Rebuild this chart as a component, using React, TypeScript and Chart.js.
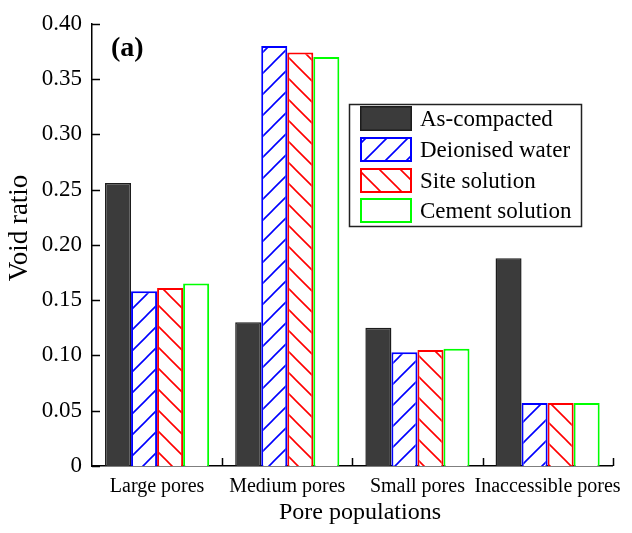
import { useEffect, useRef } from 'react';
import { Chart, registerables } from 'chart.js';

Chart.register(...registerables);

const FONT = '"Liberation Serif", "Times New Roman", serif';

const categories = ['Large pores', 'Medium pores', 'Small pores', 'Inaccessible pores'];
const seriesNames = ['As-compacted', 'Deionised water', 'Site solution', 'Cement solution'];
const asCompacted = [0.256, 0.130, 0.125, 0.188];
const deionisedWater = [0.158, 0.380, 0.103, 0.057];
const siteSolution = [0.161, 0.374, 0.105, 0.057];
const cementSolution = [0.165, 0.370, 0.106, 0.057];
const yMin = 0;
const yMax = 0.4;
const yStep = 0.05;
const panelTag = '(a)';
const xTitle = 'Pore populations';
const yTitle = 'Void ratio';

// Diagonal hatch tile: 'up' draws "/" strokes, 'down' draws "\" strokes.
function hatch(color: string, dir: 'up' | 'down', size = 21, lw = 1.6): CanvasPattern | string {
  const c = document.createElement('canvas');
  c.width = size;
  c.height = size;
  const g = c.getContext('2d');
  if (!g) return '#fff';
  g.fillStyle = '#fff';
  g.fillRect(0, 0, size, size);
  g.strokeStyle = color;
  g.lineWidth = lw;
  g.beginPath();
  if (dir === 'up') {
    g.moveTo(-1, size + 1);
    g.lineTo(size + 1, -1);
    g.moveTo(-2, 2);
    g.lineTo(2, -2);
    g.moveTo(size - 2, size + 2);
    g.lineTo(size + 2, size - 2);
  } else {
    g.moveTo(-1, -1);
    g.lineTo(size + 1, size + 1);
    g.moveTo(-2, size - 2);
    g.lineTo(2, size + 2);
    g.moveTo(size - 2, -2);
    g.lineTo(size + 2, 2);
  }
  g.stroke();
  return g.createPattern(c, 'repeat') ?? '#fff';
}

const decorations = {
  id: 'decorations',
  afterDraw(chart: any) {
    const { ctx, scales } = chart;
    const x = scales.x;
    const y = scales.y;
    ctx.save();
    ctx.strokeStyle = '#000';
    ctx.lineWidth = 1.5;

    // inward tick marks on the value axis
    ctx.beginPath();
    for (const t of y.ticks) {
      const py = Math.round(y.getPixelForValue(t.value)) + 0.5;
      ctx.moveTo(x.left, py);
      ctx.lineTo(x.left + 8, py);
    }
    // inward tick marks at the category boundaries
    for (let i = 0; i < categories.length; i++) {
      const px = Math.round(x.getPixelForValue(i + 0.5)) + 0.5;
      ctx.moveTo(px, y.bottom);
      ctx.lineTo(px, y.bottom - 8);
    }
    ctx.stroke();

    // axis titles
    ctx.fillStyle = '#000';
    ctx.textAlign = 'center';
    ctx.textBaseline = 'middle';
    ctx.font = `24px ${FONT}`;
    ctx.fillText(xTitle, 360, 513);
    ctx.save();
    ctx.translate(20, 228);
    ctx.rotate(-Math.PI / 2);
    ctx.font = `27px ${FONT}`;
    ctx.fillText(yTitle, 0, 0);
    ctx.restore();

    // panel tag
    ctx.textAlign = 'left';
    ctx.textBaseline = 'alphabetic';
    ctx.font = `bold 28px ${FONT}`;
    ctx.fillText(panelTag, 111, 56);

    // legend
    const bx = 349, by = 104, bw = 232, bh = 122;
    ctx.fillStyle = '#fff';
    ctx.fillRect(bx, by, bw, bh);
    ctx.strokeStyle = '#222';
    ctx.lineWidth = 1.5;
    ctx.strokeRect(bx + 0.5, by + 0.5, bw, bh);
    const rowTops = [106, 137, 168, 198];
    chart.data.datasets.forEach((ds: any, i: number) => {
      const sx = 360, sy = rowTops[i], sw = 52, sh = 25;
      ctx.fillStyle = ds.backgroundColor;
      ctx.fillRect(sx, sy, sw, sh);
      ctx.strokeStyle = ds.borderColor;
      ctx.lineWidth = ds.borderWidth;
      const o = ds.borderWidth / 2;
      ctx.strokeRect(sx + o, sy + o, sw - 2 * o, sh - 2 * o);
      ctx.fillStyle = '#000';
      ctx.font = `23px ${FONT}`;
      ctx.textBaseline = 'middle';
      ctx.textAlign = 'left';
      ctx.fillText(ds.label, 420, sy + sh / 2 + 1);
    });
    ctx.restore();
  },
};

export default function App() {
  const ref = useRef<HTMLCanvasElement>(null);

  useEffect(() => {
    const canvas = ref.current;
    if (!canvas) return;
    const chart = new Chart(canvas, {
      type: 'bar',
      data: {
        labels: categories,
        datasets: [
          {
            label: seriesNames[0],
            data: asCompacted,
            backgroundColor: '#3b3b3b',
            borderColor: '#1c1c1c',
            borderWidth: 1.5,
          },
          {
            label: seriesNames[1],
            data: deionisedWater,
            backgroundColor: hatch('#0000ff', 'up') as any,
            borderColor: '#0000ff',
            borderWidth: 2,
          },
          {
            label: seriesNames[2],
            data: siteSolution,
            backgroundColor: hatch('#ff0000', 'down') as any,
            borderColor: '#ff0000',
            borderWidth: 2,
          },
          {
            label: seriesNames[3],
            data: cementSolution,
            backgroundColor: '#ffffff',
            borderColor: '#00ff00',
            borderWidth: 2,
          },
        ],
      },
      options: {
        responsive: false,
        animation: false,
        layout: { padding: { top: 20, right: 19, left: 0, bottom: 0 } },
        datasets: { bar: { categoryPercentage: 0.8, barPercentage: 1 } },
        plugins: { legend: { display: false }, tooltip: { enabled: false } },
        scales: {
          x: {
            grid: { display: false, drawTicks: false },
            border: { color: '#000', width: 1.5 },
            ticks: {
              color: '#000',
              padding: 9,
              autoSkip: false,
              minRotation: 0,
              maxRotation: 0,
              font: { family: FONT, size: 20 },
            },
            afterFit: (s: any) => {
              s.height = 67;
            },
          },
          y: {
            min: yMin,
            max: yMax,
            grid: { display: false, drawTicks: false },
            border: { color: '#000', width: 1.5 },
            ticks: {
              stepSize: yStep,
              color: '#000',
              padding: 10,
              font: { family: FONT, size: 23 },
              callback: (v: any) => (Number(v) === 0 ? '0' : Number(v).toFixed(2)),
            },
            afterFit: (s: any) => {
              s.width = 92;
            },
          },
        },
      },
      plugins: [decorations],
    });
    return () => chart.destroy();
  }, []);

  return (
    <div style={{ position: 'fixed', left: 0, top: 0, width: 632, height: 533, background: '#fff' }}>
      <canvas ref={ref} width={632} height={533} style={{ display: 'block' }} />
    </div>
  );
}
